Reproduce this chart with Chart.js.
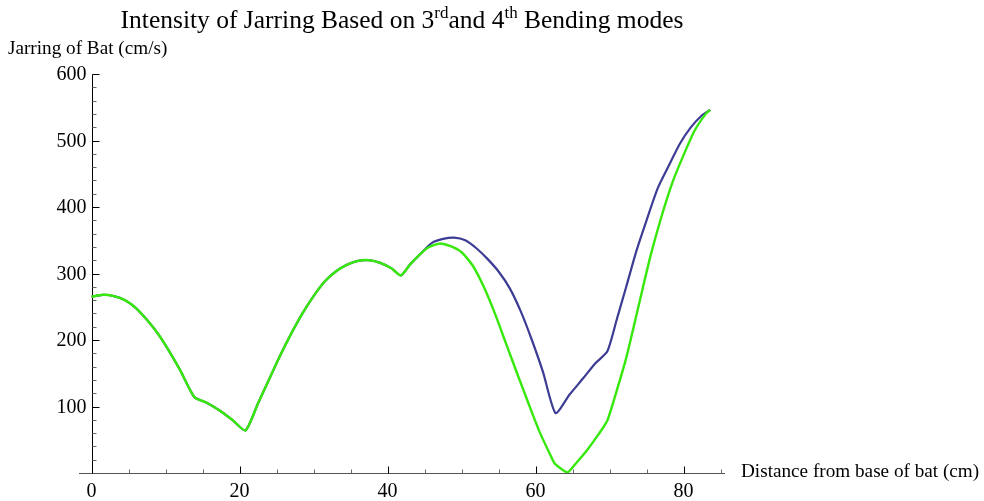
<!DOCTYPE html>
<html>
<head>
<meta charset="utf-8">
<title>Intensity of Jarring</title>
<script src="https://cdn.jsdelivr.net/npm/chart.js@4.4.0/dist/chart.umd.min.js"></script>
<style>
    html, body { margin: 0; padding: 0; background: #fff; }
    #wrap { width: 984px; height: 501px; }
</style>
</head>
<body>
<div id="wrap"><canvas id="jarring" width="984" height="501"></canvas></div>
<script>
// part where both curves run together (cm, cm/s)
var sharedDistance = [0, 1.5, 3, 4.5, 6, 7.5, 9, 10.5, 12, 13.9, 15.5, 17.3, 19, 20.8, 22.5, 24, 25.5, 27, 28.5, 30, 31.5, 33, 34.5, 36, 37.5, 39, 40.5, 41.8, 43, 44.4];
var sharedJarring  = [265, 268, 266, 260, 248, 230, 209, 183, 154, 114, 106, 94, 80, 64, 105, 141, 177, 210, 240, 266, 288, 303, 313, 319, 320, 316, 308, 297, 313, 329];

// blue curve after the split
var blueDistance = [46, 47.5, 49, 50.5, 52, 53.5, 55, 56.5, 58, 59.5, 61, 62.7, 64.6, 66.4, 68, 69.7, 71, 72.3, 73.6, 75, 76.5, 78, 79.5, 81, 82.5, 83.6];
var blueJarring  = [346, 352, 354, 350, 338, 322, 303, 278, 243, 200, 152, 90, 118, 142, 164, 183, 232, 282, 333, 380, 428, 462, 495, 520, 538, 546];

// green curve after the split
var greenDistance = [45.5, 47, 48.5, 50, 51.5, 53, 54.5, 56, 57.5, 59, 60.5, 62, 62.6, 64.3, 65.5, 67, 68.5, 69.7, 71, 72.3, 74, 75.5, 77, 78.5, 80, 81.5, 83, 83.6];
var greenJarring  = [339, 345, 341, 332, 312, 280, 240, 195, 150, 106, 63, 27, 14, 1, 15, 35, 58, 79, 125, 175, 255, 325, 385, 437, 478, 515, 540, 546];

var xTickLabels = [0, 20, 40, 60, 80];
var yTickLabels = [100, 200, 300, 400, 500, 600];

!function() {
    "use strict";

    var SERIF = '"Liberation Serif", "Times New Roman", serif';

    function toPoints(xs, ys) {
        var pts = [];
        for (var i = 0; i < xs.length; i++) pts.push({x: xs[i], y: ys[i]});
        return pts;
    }

    // axes in the Mathematica look: crossing at the origin, ticks pointing inward
    var axesPlugin = {
        id: 'frameAxes',
        beforeDatasetsDraw: function(chart) {
            var ctx = chart.ctx, sx = chart.scales.x, sy = chart.scales.y;
            var ox = Math.round(sx.getPixelForValue(0)) + 0.5;
            var oy = Math.round(sy.getPixelForValue(0)) + 0.5;
            var topY = Math.round(sy.getPixelForValue(600)) + 0.5;
            var v, p;
            ctx.save();
            ctx.lineWidth = 1;

            // x axis line
            ctx.strokeStyle = '#555';
            ctx.beginPath(); ctx.moveTo(sx.left, oy); ctx.lineTo(sx.right, oy); ctx.stroke();
            // y axis line
            ctx.strokeStyle = '#000';
            ctx.beginPath(); ctx.moveTo(ox, oy); ctx.lineTo(ox, topY); ctx.stroke();

            // x ticks
            for (v = 5; v <= 85; v += 5) {
                p = Math.round(sx.getPixelForValue(v)) + 0.5;
                var major = v % 20 === 0;
                ctx.strokeStyle = major ? '#000' : '#666';
                ctx.beginPath(); ctx.moveTo(p, oy); ctx.lineTo(p, oy - (major ? 7 : 4)); ctx.stroke();
            }
            // y ticks
            for (v = 20; v <= 600; v += 20) {
                p = Math.round(sy.getPixelForValue(v)) + 0.5;
                var majorY = v % 100 === 0;
                ctx.strokeStyle = majorY ? '#000' : '#666';
                ctx.beginPath(); ctx.moveTo(ox, p); ctx.lineTo(ox + (majorY ? 7 : 4), p); ctx.stroke();
            }

            // tick labels
            ctx.fillStyle = '#000';
            ctx.font = '20px ' + SERIF;
            ctx.textAlign = 'center';
            ctx.textBaseline = 'middle';
            xTickLabels.forEach(function(t) {
                ctx.fillText(String(t), sx.getPixelForValue(t), oy + 18);
            });
            ctx.textAlign = 'right';
            yTickLabels.forEach(function(t) {
                ctx.fillText(String(t), ox - 6, sy.getPixelForValue(t) + 1);
            });

            // axis labels
            ctx.font = '19.2px ' + SERIF;
            ctx.textAlign = 'left';
            ctx.textBaseline = 'alphabetic';
            ctx.fillText('Jarring of Bat (cm/s)', 8, 54);
            ctx.fillText('Distance from base of bat (cm)', 741, 477);
            ctx.restore();
        }
    };

    // title with superscripts, centred over the plot
    var titlePlugin = {
        id: 'supTitle',
        afterDraw: function(chart) {
            var ctx = chart.ctx;
            var parts = [
                ['Intensity of Jarring Based on 3', false],
                ['rd', true],
                ['and 4', false],
                ['th', true],
                [' Bending modes', false]
            ];
            var big = '25.5px ' + SERIF, small = '17px ' + SERIF;
            ctx.save();
            var total = 0;
            parts.forEach(function(pt) {
                ctx.font = pt[1] ? small : big;
                total += ctx.measureText(pt[0]).width;
            });
            var cx = (chart.chartArea.left + chart.chartArea.right) / 2;
            var x = cx - total / 2;
            ctx.fillStyle = '#000';
            ctx.textBaseline = 'alphabetic';
            parts.forEach(function(pt) {
                ctx.font = pt[1] ? small : big;
                ctx.fillText(pt[0], x, pt[1] ? 18 : 28);
                x += ctx.measureText(pt[0]).width;
            });
            ctx.restore();
        }
    };

    var blueLine = toPoints(sharedDistance.concat(blueDistance), sharedJarring.concat(blueJarring));
    var greenLine = toPoints(sharedDistance.concat(greenDistance), sharedJarring.concat(greenJarring));

    new Chart(document.getElementById('jarring').getContext('2d'), {
        type: 'line',
        data: {
            datasets: [
                {
                    label: 'green',
                    data: greenLine,
                    borderColor: '#36e80c',
                    borderWidth: 2.4,
                    pointRadius: 0,
                    tension: 0.2,
                    fill: false
                },
                {
                    label: 'blue',
                    data: blueLine,
                    borderColor: '#3c3c94',
                    borderWidth: 2.2,
                    pointRadius: 0,
                    tension: 0.2,
                    fill: false
                }
            ]
        },
        options: {
            responsive: false,
            animation: false,
            devicePixelRatio: 1,
            layout: { padding: { left: 79, right: 259, top: 74, bottom: 28 } },
            plugins: {
                legend: { display: false },
                title: { display: false },
                tooltip: { enabled: false }
            },
            scales: {
                x: { type: 'linear', min: -1.7, max: 85.6, display: false },
                y: { type: 'linear', min: 0, max: 600, display: false }
            }
        },
        plugins: [axesPlugin, titlePlugin]
    });
}();
</script>
</body>
</html>
